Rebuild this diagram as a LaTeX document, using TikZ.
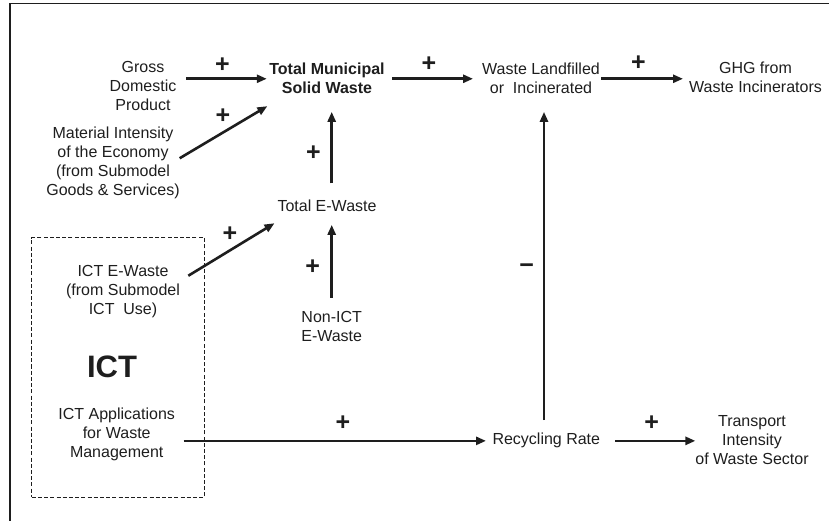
\documentclass[tikz,border=0pt]{standalone}
\usepackage{fontspec}
\setmainfont{Liberation Sans}
\usetikzlibrary{arrows.meta}
\definecolor{ink}{HTML}{1E1E1E}
\begin{document}
\begin{tikzpicture}[x=1pt,y=-1pt,
  lbl/.style={inner sep=0pt, outer sep=0pt, align=center, anchor=north,
    font=\fontsize{16}{19}\selectfont, text=ink},
  boldlbl/.style={lbl, font=\fontsize{16}{19}\selectfont\bfseries},
  sign/.style={inner sep=0pt, outer sep=0pt, anchor=base, text=ink,
    font=\fontsize{25}{25}\selectfont\bfseries},
  arr/.style={draw=ink, line width=2.6pt, -{Triangle[length=10pt,width=8pt]}},
  frame/.style={draw=ink, line width=1.6pt},
  ictbox/.style={draw=ink, line width=1.5pt, dash pattern=on 4pt off 2.2pt,
    inner sep=0pt, minimum width=172.6pt, minimum height=259.6pt}
]
\useasboundingbox (0,0) rectangle (829,521);
\draw[frame] (10,521) -- (10,3.5) -- (829,3.5);

% ICT box
\node[ictbox] (icbox) at (118,367.5) {};

% nodes
\node[lbl] (gdp) at (143,61.4) {Gross\\Domestic\\Product};
\node[lbl] (mat) at (113,127.4) {Material Intensity\\of the Economy\\(from Submodel\\Goods \& Services)};
\node[boldlbl] (tmsw) at (327,63.4) {Total Municipal\\Solid Waste};
\node[lbl] (wl) at (541,63.4) {Waste Landfilled\\or\ \ Incinerated};
\node[lbl] (ghg) at (755.5,62.4) {GHG from\\Waste Incinerators};
\node[lbl] (tew) at (327,200.4) {Total E-Waste};
\node[lbl] (nict) at (331.7,311.4) {Non-ICT\\E-Waste};
\node[lbl] (ictew) at (123,265.4) {ICT E-Waste\\(from Submodel\\ICT\ \ Use)};
\node[inner sep=0pt, anchor=base, text=ink, font=\fontsize{31}{31}\selectfont\bfseries] (ict) at (112,377) {ICT};
\node[lbl] (ictapp) at (116.7,408.4) {ICT Applications\\for Waste\\Management};
\node[lbl] (rr) at (546.3,433.4) {Recycling Rate};
\node[lbl] (tr) at (752,415.4) {Transport\\Intensity\\of Waste Sector};

% connectors
\draw[arr, shorten <=9.7pt, shorten >=2.6pt] (gdp.east |- tmsw.west) -- (tmsw.west);
\draw[arr] ([yshift=5.1pt]mat.east) -- ([xshift=-2pt,yshift=-12pt]tmsw.south west);
\draw[arr, shorten <=7.7pt, shorten >=9.1pt] (tmsw.east) -- (wl.west |- tmsw.east);
\draw[arr, shorten <=1.5pt, shorten >=6.1pt] (wl.east) -- (ghg.west |- wl.east);
\draw[arr, shorten <=17.1pt, shorten >=17.7pt] (tew.north -| nict.north) -- (tmsw.south -| nict.north);
\draw[arr, shorten <=13.7pt, shorten >=12.7pt] (nict.north) -- (tew.south -| nict.north);
\draw[arr] ([xshift=8.4pt,yshift=15.9pt]ictew.east) -- ([xshift=-3pt,yshift=-16.95pt]tew.west);
\draw[arr, shorten <=8.7pt, shorten >=6.5pt] (ictapp.east |- rr.west) -- (rr.west);
\path ([xshift=-2.3pt]rr.north) coordinate (rrtop);
\draw[arr, shorten <=13.4pt, shorten >=17.7pt] (rrtop) -- (rrtop |- wl.south);
\draw[arr, shorten <=14.9pt] (rr.east) -- (tr.west |- rr.east);

% polarity signs
\node[sign] (s1) at (222.3,72.3) {+};
\node[sign] (s2) at (223,123.6) {+};
\node[sign] (s3) at (429,71.7) {+};
\node[sign] (s4) at (638.3,70.7) {+};
\node[sign] (s5) at (313.3,160.7) {+};
\node[sign] (s6) at (312.7,274.7) {+};
\node[sign] (s7) at (230,241.7) {+};
\node[sign] (s8) at (343,430) {+};
\node[sign] (s9) at (651.7,430.7) {+};
\node[sign] (m1) at (526.7,273) {−};
\end{tikzpicture}
\end{document}
